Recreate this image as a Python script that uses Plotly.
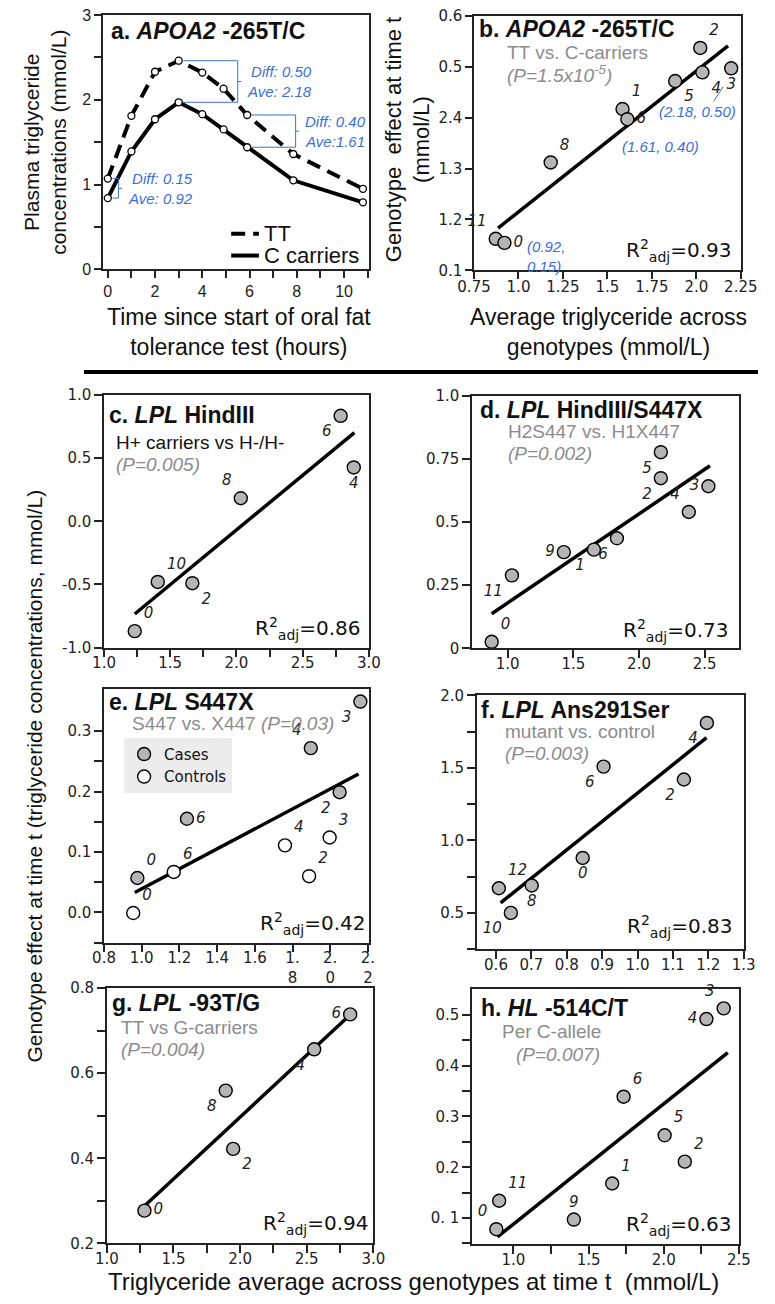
import plotly.graph_objects as go

# ---------------- DATA ----------------
# Panel a: time course
a_time = [0, 1, 2, 3, 4, 4.9, 5.9, 7.85, 10.8]
a_tt = [1.07, 1.81, 2.33, 2.46, 2.32, 2.13, 1.82, 1.36, 0.95]
a_cc = [0.84, 1.39, 1.77, 1.97, 1.83, 1.65, 1.44, 1.05, 0.79]
a_series_names = ["TT", "C carriers"]
a_brackets_text = ["Diff: 0.15<br>Ave: 0.92", "Diff: 0.50<br>Ave: 2.18", "Diff: 0.40<br>Ave:1.61"]

# Panel b
b_labels = ["2", "3", "4", "5", "1", "6", "8", "11", "0"]
b_x = [2.022, 2.196, 2.034, 1.881, 1.585, 1.612, 1.181, 0.872, 0.921]
b_y = [0.537, 0.497, 0.489, 0.472, 0.417, 0.397, 0.312, 0.162, 0.154]
b_fit_x = [0.885, 2.178]
b_fit_y = [0.183, 0.541]
b_yticktext = ["0.1", "1.2", "1.3", "2.4", "0.5", "0.6"]

# Panel c
c_labels = ["6", "4", "8", "10", "2", "0"]
c_x = [2.787, 2.886, 2.033, 1.406, 1.667, 1.232]
c_y = [0.836, 0.427, 0.183, -0.48, -0.49, -0.87]
c_fit_x = [1.232, 2.891]
c_fit_y = [-0.734, 0.703]

# Panel d
d_labels = ["5", "2", "3", "4", "6", "1", "9", "11", "0"]
d_x = [2.166, 2.166, 2.528, 2.379, 1.832, 1.657, 1.428, 1.033, 0.879]
d_y = [0.777, 0.674, 0.642, 0.540, 0.436, 0.391, 0.381, 0.289, 0.026]
d_fit_x = [0.879, 2.54]
d_fit_y = [0.137, 0.723]

# Panel e
e_case_labels = ["3", "4", "2", "6", "0"]
e_case_x = [2.16, 1.897, 2.05, 1.24, 0.977]
e_case_y = [0.349, 0.272, 0.199, 0.155, 0.057]
e_ctrl_labels = ["3", "4", "2", "6", "0"]
e_ctrl_x = [1.997, 1.76, 1.888, 1.17, 0.955]
e_ctrl_y = [0.124, 0.111, 0.060, 0.067, -0.001]
e_fit_x = [0.963, 2.15]
e_fit_y = [0.033, 0.229]
e_xticktext = ["0.8", "1.0", "1.2", "1.4", "1.6", "1.<br>8", "2.<br>0", "2.<br>2"]

# Panel f
f_labels = ["4", "6", "2", "0", "12", "8", "10"]
f_x = [1.196, 0.904, 1.131, 0.845, 0.608, 0.701, 0.642]
f_y = [1.81, 1.509, 1.42, 0.879, 0.67, 0.689, 0.50]
f_fit_x = [0.613, 1.195]
f_fit_y = [0.569, 1.708]

# Panel g
g_labels = ["6", "4", "8", "2", "0"]
g_x = [2.826, 2.556, 1.892, 1.948, 1.282]
g_y = [0.738, 0.656, 0.559, 0.422, 0.277]
g_fit_x = [1.282, 2.826]
g_fit_y = [0.288, 0.737]

# Panel h
h_labels = ["3", "4", "6", "5", "2", "1", "11", "9", "0"]
h_x = [2.399, 2.284, 1.733, 2.006, 2.14, 1.657, 0.905, 1.402, 0.886]
h_y = [0.513, 0.492, 0.339, 0.263, 0.211, 0.168, 0.134, 0.097, 0.078]
h_fit_x = [0.894, 2.426]
h_fit_y = [0.063, 0.426]

# ---------------- STYLE ----------------
W, H = 775, 1304
SANS = "Liberation Sans"
LUC = "DejaVu Sans"
GREYTXT = "#8c8c8c"
BLUE = "#3b6fd6"
PT_FILL = "#b5b5b5"
DASH = "14px,8px"

b_pos = ["top right", "bottom center", "bottom right", "bottom right", "top right",
         "middle right", "top right", "top left", "middle right"]
c_pos = ["bottom left", "bottom center", "top left", "top right", "bottom right", "top right"]
d_pos = ["bottom left", "bottom left", "middle left", "top left", "bottom left",
         "bottom left", "middle left", "bottom left", "top right"]
e_case_pos = ["bottom left", "top left", "bottom left", "middle right", "top right"]
e_ctrl_pos = ["top right", "top right", "top right", "top right", "top right"]
f_pos = ["bottom left", "bottom left", "bottom left", "bottom center", "top right",
         "bottom center", "bottom left"]
g_pos = ["middle left", "bottom left", "bottom left", "bottom right", "middle right"]
h_pos = ["top left", "middle left", "top right", "top right", "top right", "top right",
         "top right", "top center", "top left"]


def dx(l, r):
    return [l / W, r / W]


def dy(t, b):
    return [1 - b / H, 1 - t / H]


fig = go.Figure()

# ---- panel a ----
fig.add_trace(go.Scatter(x=a_time, y=a_tt, mode="lines", name=a_series_names[0], showlegend=False,
                         line=dict(color="black", width=4, dash=DASH), xaxis="x", yaxis="y"))
fig.add_trace(go.Scatter(x=a_time, y=a_cc, mode="lines", name=a_series_names[1], showlegend=False,
                         line=dict(color="black", width=4), xaxis="x", yaxis="y"))
for ys in (a_tt, a_cc):
    fig.add_trace(go.Scatter(x=a_time, y=ys, mode="markers", showlegend=False,
                             marker=dict(size=7, color="white", line=dict(color="black", width=1.3)),
                             xaxis="x", yaxis="y", cliponaxis=False))


def scatter_panel(xs, ys, labels, pos, ax, fill=PT_FILL, name=None):
    fig.add_trace(go.Scatter(
        x=xs, y=ys, mode="markers+text", text=labels, textposition=pos,
        textfont=dict(family=LUC, size=15, color="#222", style="italic"),
        marker=dict(size=13, color=fill, line=dict(color="black", width=1.4)),
        xaxis="x" + ax, yaxis="y" + ax, cliponaxis=False,
        showlegend=name is not None, name=name))


def fit_line(xs, ys, ax):
    fig.add_trace(go.Scatter(x=xs, y=ys, mode="lines", showlegend=False,
                             line=dict(color="black", width=3.5),
                             xaxis="x" + ax, yaxis="y" + ax))


fit_line(b_fit_x, b_fit_y, "2")
scatter_panel(b_x, b_y, b_labels, b_pos, "2")
fit_line(c_fit_x, c_fit_y, "3")
scatter_panel(c_x, c_y, c_labels, c_pos, "3")
fit_line(d_fit_x, d_fit_y, "4")
scatter_panel(d_x, d_y, d_labels, d_pos, "4")
fit_line(e_fit_x, e_fit_y, "5")
scatter_panel(e_case_x, e_case_y, e_case_labels, e_case_pos, "5", name="Cases")
scatter_panel(e_ctrl_x, e_ctrl_y, e_ctrl_labels, e_ctrl_pos, "5", fill="white", name="Controls")
fit_line(f_fit_x, f_fit_y, "6")
scatter_panel(f_x, f_y, f_labels, f_pos, "6")
fit_line(g_fit_x, g_fit_y, "7")
scatter_panel(g_x, g_y, g_labels, g_pos, "7")
fit_line(h_fit_x, h_fit_y, "8")
scatter_panel(h_x, h_y, h_labels, h_pos, "8")

# ---------------- AXES ----------------
base = dict(showline=True, linecolor="#222", linewidth=1.5, mirror=True, ticks="outside",
            ticklen=8, tickwidth=1.5, tickcolor="#222", showgrid=False, zeroline=False)


def axis(dom, rng, vals, texts, fam, size, anchor, standoff=0, ticklen=8):
    d = dict(base)
    d.update(domain=dom, range=rng, tickmode="array", tickvals=vals, ticktext=texts,
             tickfont=dict(family=fam, size=size, color="#222"), anchor=anchor,
             ticklabelstandoff=standoff, ticklen=ticklen)
    return d


def steps(a, b, s):
    n = int(round((b - a) / s))
    return [round(a + i * s, 4) for i in range(n + 1)]


def lab(vals, keep, fmt="{:.1f}"):
    return [fmt.format(v) if any(abs(v - k) < 1e-6 for k in keep) else "" for v in vals]


XS = -7  # tick labels of lower panels sit close to the axis
lay = {}
# a
xa = steps(0, 11, 1)
lay["xaxis"] = axis(dx(90, 368), [-0.2, 11.05], xa,
                    [str(v) if v % 2 == 0 and v <= 10 else "" for v in xa], SANS, 16, "y", 0, 7)
ya = steps(0, 3, 0.5)
lay["yaxis"] = axis(dy(6, 264), [0, 3], ya, [str(int(v)) if v == int(v) else "" for v in ya], SANS, 16, "x", 0, 7)
# b
xb = steps(0.75, 2.25, 0.25)
lay["xaxis2"] = axis(dx(478, 757), [0.75, 2.25], xb, ["0.75", "1.0", "1.25", "1.5", "1.75", "2.0", "2.25"],
                     LUC, 15, "y2", -5, 7)
yb = steps(0.1, 0.6, 0.1)
lay["yaxis2"] = axis(dy(7, 265), [0.1, 0.6], yb, b_yticktext, LUC, 15, "x2", 0, 7)
# c
xc = steps(1.0, 3.0, 0.25)
lay["xaxis3"] = axis(dx(91, 368), [1.0, 3.0], xc, lab(xc, [1, 1.5, 2, 2.5, 3]), LUC, 15, "y3", XS)
yc = steps(-1.0, 1.0, 0.5)
lay["yaxis3"] = axis(dy(391.5, 647.5), [-1.0, 1.0], yc, ["-1.0", "-0.5", "0.0", "0.5", "1.0"], LUC, 15, "x3")
# d
xd = [1.0, 1.5, 2.0, 2.5]
lay["xaxis4"] = axis(dx(476, 755), [0.73, 2.76], xd, ["1.0", "1.5", "2.0", "2.5"], LUC, 15, "y4", XS)
yd = steps(0, 1.0, 0.25)
lay["yaxis4"] = axis(dy(392.3, 648.3), [0, 1.0], yd, ["0", "0.25", "0.5", "0.75", "1.0"], LUC, 15, "x4")
# e
xe = steps(0.8, 2.2, 0.2)
lay["xaxis5"] = axis(dx(91, 368), [0.8, 2.205], xe, e_xticktext, LUC, 15, "y5", XS)
ye = steps(-0.05, 0.3, 0.05)
lay["yaxis5"] = axis(dy(690, 946.7), [-0.05, 0.369], ye, lab(ye, [0, 0.1, 0.2, 0.3]), LUC, 15, "x5")
# f
xf = steps(0.6, 1.3, 0.1)
lay["xaxis6"] = axis(dx(481, 760), [0.546, 1.3], xf, ["{:.1f}".format(v) for v in xf], LUC, 15, "y6", XS)
yf = steps(0.25, 2.0, 0.25)
lay["yaxis6"] = axis(dy(696, 953.3), [0.25, 2.0], yf, lab(yf, [0.5, 1, 1.5, 2]), LUC, 15, "x6")
# g
xg = steps(1.0, 3.0, 0.25)
lay["xaxis7"] = axis(dx(94, 372.7), [1.0, 3.0], xg, lab(xg, [1, 1.5, 2, 2.5, 3]), LUC, 15, "y7", XS)
yg = steps(0.2, 0.8, 0.1)
lay["yaxis7"] = axis(dy(992.7, 1251.7), [0.2, 0.8], yg, lab(yg, [0.2, 0.4, 0.6, 0.8]), LUC, 15, "x7")
# h
xh = steps(1.0, 2.5, 0.25)
lay["xaxis8"] = axis(dx(476, 755), [0.725, 2.5], xh, lab(xh, [1, 1.5, 2, 2.5]), LUC, 15, "y8", XS)
yh = steps(0.05, 0.5, 0.05)
yh_txt = ["0. 1" if abs(v - 0.1) < 1e-6 else t for v, t in zip(yh, lab(yh, [0.1, 0.2, 0.3, 0.4, 0.5]))]
lay["yaxis8"] = axis(dy(993.3, 1252.7), [0.048, 0.552], yh, yh_txt, LUC, 15, "x8")

fig.update_layout(**lay)

# ---------------- ANNOTATIONS ----------------
anns = []
shapes = []


def pa(text, x, y, size=19, color="#111", xanchor="left", yanchor="middle", family=SANS, align="left", angle=0):
    anns.append(dict(text=text, x=x / W, y=1 - y / H, xref="paper", yref="paper", showarrow=False,
                     xanchor=xanchor, yanchor=yanchor, align=align, textangle=angle,
                     font=dict(family=family, size=size, color=color)))


TS = 23
SS = 19
pa("<b>a. <i>APOA2</i> -265T/C</b>", 96, 22, TS)
pa("<b>b. <i>APOA2</i> -265T/C</b>", 481, 20, TS)
pa("TT vs. C-carriers", 510, 44, SS, GREYTXT)
pa("<i>(P=1.5x10<sup>-5</sup>)</i>", 510, 66, SS, GREYTXT)
pa("<b>c. <i>LPL</i> HindIII</b>", 94, 412, TS)
pa("H+ carriers vs H-/H-", 101, 440, SS, "#111")
pa("<i>(P=0.005)</i>", 101, 462, SS, GREYTXT)
pa("<b>d. <i>LPL</i> HindIII/S447X</b>", 482, 407, TS)
pa("H2S447 vs. H1X447", 511, 428, SS, GREYTXT)
pa("<i>(P=0.002)</i>", 511, 451, SS, GREYTXT)
pa("<b>e. <i>LPL</i> S447X</b>", 94, 703, TS)
pa("S447 vs. X447 <i>(P=0.03)</i>", 118, 725, SS, GREYTXT)
pa("<b>f. <i>LPL</i> Ans291Ser</b>", 483, 711, TS)
pa("mutant vs. control", 508, 733, SS, GREYTXT)
pa("<i>(P=0.003)</i>", 508, 755, SS, GREYTXT)
pa("<b>g. <i>LPL</i> -93T/G</b>", 97, 1008, TS)
pa("TT vs G-carriers", 107, 1033, SS, GREYTXT)
pa("<i>(P=0.004)</i>", 107, 1055, SS, GREYTXT)
pa("<b>h. <i>HL</i> -514C/T</b>", 483, 1013, TS)
pa("Per C-allele", 505, 1037, SS, GREYTXT)
pa("<i>(P=0.007)</i>", 520, 1060, SS, GREYTXT)

R = "R<sup>2</sup><sub>adj</sub>="
for val, x, y in [("0.93", 749, 245), ("0.86", 361, 628), ("0.73", 746, 630), ("0.42", 366, 927),
                  ("0.83", 750, 930), ("0.94", 369, 1231), ("0.63", 749, 1233)]:
    pa(R + val, x, y, 20, "#111", xanchor="right", family=LUC)

# axis titles
pa("Plasma triglyceride<br>concentrations (mmol/L)", 29, 135, 21, "#111", xanchor="center", align="center", angle=-90)
pa("Time since start of oral fat<br>tolerance test (hours)", 232, 328, 23, "#111", xanchor="center", align="center")
pa("Genotype  effect at time t<br>(mmol/L)", 409, 133, 22, "#111", xanchor="center", align="center", angle=-90)
pa("Average triglyceride across<br>genotypes (mmol/L)", 619, 328, 23, "#111", xanchor="center", align="center")
pa("Genotype effect at time t (triglyceride concentrations, mmol/L)", 18, 778, 21, "#111",
   xanchor="center", align="center", angle=-90)
pa("Triglyceride average across genotypes at time t&nbsp; (mmol/L)", 415, 1290, 24, "#111", xanchor="center")

# panel a key (drawn like the original's inline key)
for k, (nm, yk) in enumerate(zip(a_series_names, [228, 250])):
    shapes.append(dict(type="line", xref="paper", yref="paper", x0=224 / W, x1=253 / W,
                       y0=1 - yk / H, y1=1 - yk / H,
                       line=dict(color="black", width=4, dash=DASH if k == 0 else "solid")))
    pa(nm, 256, yk, 22, "#111")

# panel a blue bracket notes (anchored to data)
bracket_style = [(0.2, 0.45), (3.2, 5.5), (6.07, 7.95)]
bracket_idx = [0, 3, 6]
for k, (idx, spec) in enumerate(zip(bracket_idx, bracket_style)):
    x0, xv = spec
    top, bot = a_tt[idx], a_cc[idx]
    mid = (top + bot) / 2
    ln = dict(color=BLUE, width=1)
    shapes.append(dict(type="line", xref="x", yref="y", x0=x0, x1=xv, y0=top, y1=top, line=ln))
    shapes.append(dict(type="line", xref="x", yref="y", x0=x0, x1=xv, y0=bot, y1=bot, line=ln))
    shapes.append(dict(type="line", xref="x", yref="y", x0=xv, x1=xv, y0=bot, y1=top, line=ln))
    shapes.append(dict(type="line", xref="x", yref="y", x0=xv, x1=xv + 0.15, y0=mid, y1=mid, line=ln))
    anns.append(dict(text="<i>" + a_brackets_text[k] + "</i>", x=xv + 0.15, y=mid, xref="x", yref="y",
                     xanchor="left", yanchor="middle", align="right", xshift=4, showarrow=False,
                     font=dict(family=SANS, size=15, color=BLUE)))

# panel b blue notes
for txt, x, y, xa_ in [("(2.18, 0.50)", 2.009, 0.413, "center"), ("(1.61, 0.40)", 1.799, 0.343, "center"),
                       ("(0.92,<br>0.15)", 1.035, 0.128, "left")]:
    anns.append(dict(text="<i>" + txt + "</i>", x=x, y=y, xref="x2", yref="y2", xanchor=xa_, yanchor="middle",
                     align="left", showarrow=False, font=dict(family=SANS, size=15, color=BLUE)))
shapes.append(dict(type="line", xref="x2", yref="y2", x0=2.151, y0=0.461, x1=2.097, y1=0.432,
                   line=dict(color=BLUE, width=1)))

# separator
shapes.append(dict(type="line", xref="paper", yref="paper", x0=70 / W, x1=1, y0=1 - 368 / H, y1=1 - 368 / H,
                   line=dict(color="black", width=4)))

fig.update_layout(
    width=W, height=H, autosize=False, margin=dict(l=0, r=0, t=0, b=0),
    paper_bgcolor="white", plot_bgcolor="white",
    annotations=anns, shapes=shapes,
    legend=dict(x=112 / W, y=1 - 739 / H, xanchor="left", yanchor="top", bgcolor="#ececec",
                font=dict(family=LUC, size=15, color="#111"), tracegroupgap=0, itemwidth=30),
)

fig.write_html("out.html", config={"displayModeBar": False},
               post_script="document.body.style.margin='0';document.body.style.overflow='hidden';")
